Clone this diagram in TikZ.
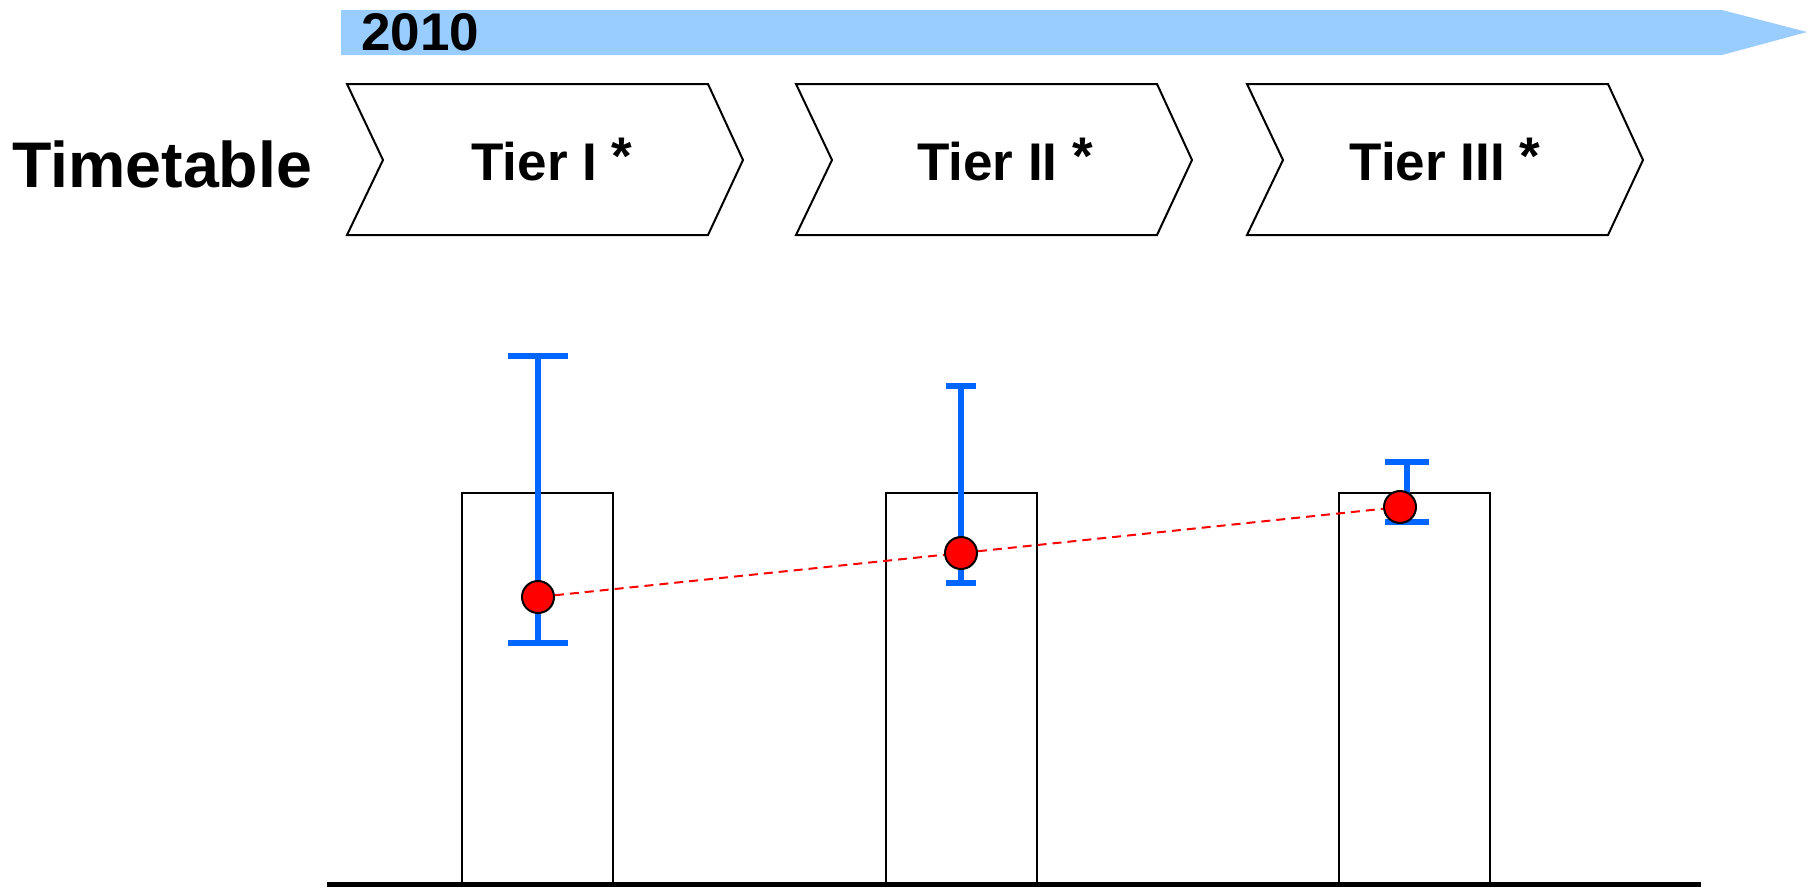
\documentclass[tikz,border=0pt]{standalone}
\usepackage{fontspec}
\setmainfont{Liberation Sans}
\usetikzlibrary{calc}
\definecolor{timeblue}{RGB}{153,204,255}
\definecolor{errblue}{RGB}{0,102,255}
\newcommand{\tiermark}{~\raisebox{6pt}{*}}
\tikzset{
 tierbox/.style={draw=black, line width=2pt, fill=white, line join=miter},
 tiertext/.style={anchor=base, inner sep=0, font=\bfseries\fontsize{53}{60}\selectfont},
 errbar/.style={draw=errblue, line width=6pt},
 meanpt/.style={circle, draw=black, line width=2pt, fill=red, minimum size=32pt, inner sep=0pt},
 levelbar/.style={draw=black, line width=2pt}
}

\begin{document}
\begin{tikzpicture}[x=1pt,y=-1pt]
\useasboundingbox (0,0) rectangle (1812,887);
\fill[timeblue] (341,10) -- (1722,10) -- (1807,32) -- (1722,55) -- (341,55) -- cycle;
\node[anchor=base west, inner sep=0, font=\bfseries\fontsize{53}{60}\selectfont] (year) at (361,50) {2010};
\node[anchor=base west, inner sep=0, font=\bfseries\fontsize{64.5}{70}\selectfont] (timetable) at (12,187) {Timetable};
\foreach \x/\c/\n/\lbl in {347/552/1/{Tier I}, 796/1005/2/{Tier II}, 1247/1445/3/{Tier III}} {
 \draw[tierbox] (\x,84) -- ++(361,0) -- ++(35,76) -- ++(-35,75) -- ++(-361,0) -- ++(36,-75) -- cycle;
 \node[tiertext] (tier\n) at (\c,180) {\lbl\tiermark};
}
\foreach \x in {462,886,1339} {
 \draw[levelbar] (\x,884) rectangle ++(151,-391);
}
\draw[line width=5pt] (327,884) -- (1701,884);
\foreach \x/\lo/\hi/\w in {538/643/356/30, 961/583/386/15, 1407/522/462/22} {
 \draw[errbar] (\x,\lo) -- (\x,\hi);
 \draw[errbar] (\x-\w,\hi) -- (\x+\w,\hi);
 \draw[errbar] (\x-\w,\lo) -- (\x+\w,\lo);
}
\node[meanpt] (mean1) at (538,597) {};
\node[meanpt] (mean2) at (961,553) {};
\node[meanpt] (mean3) at (1400,507) {};
\draw[red, line width=2pt, dash pattern=on 9pt off 6pt] (mean1) -- (mean2) -- (mean3);
\end{tikzpicture}
\end{document}
